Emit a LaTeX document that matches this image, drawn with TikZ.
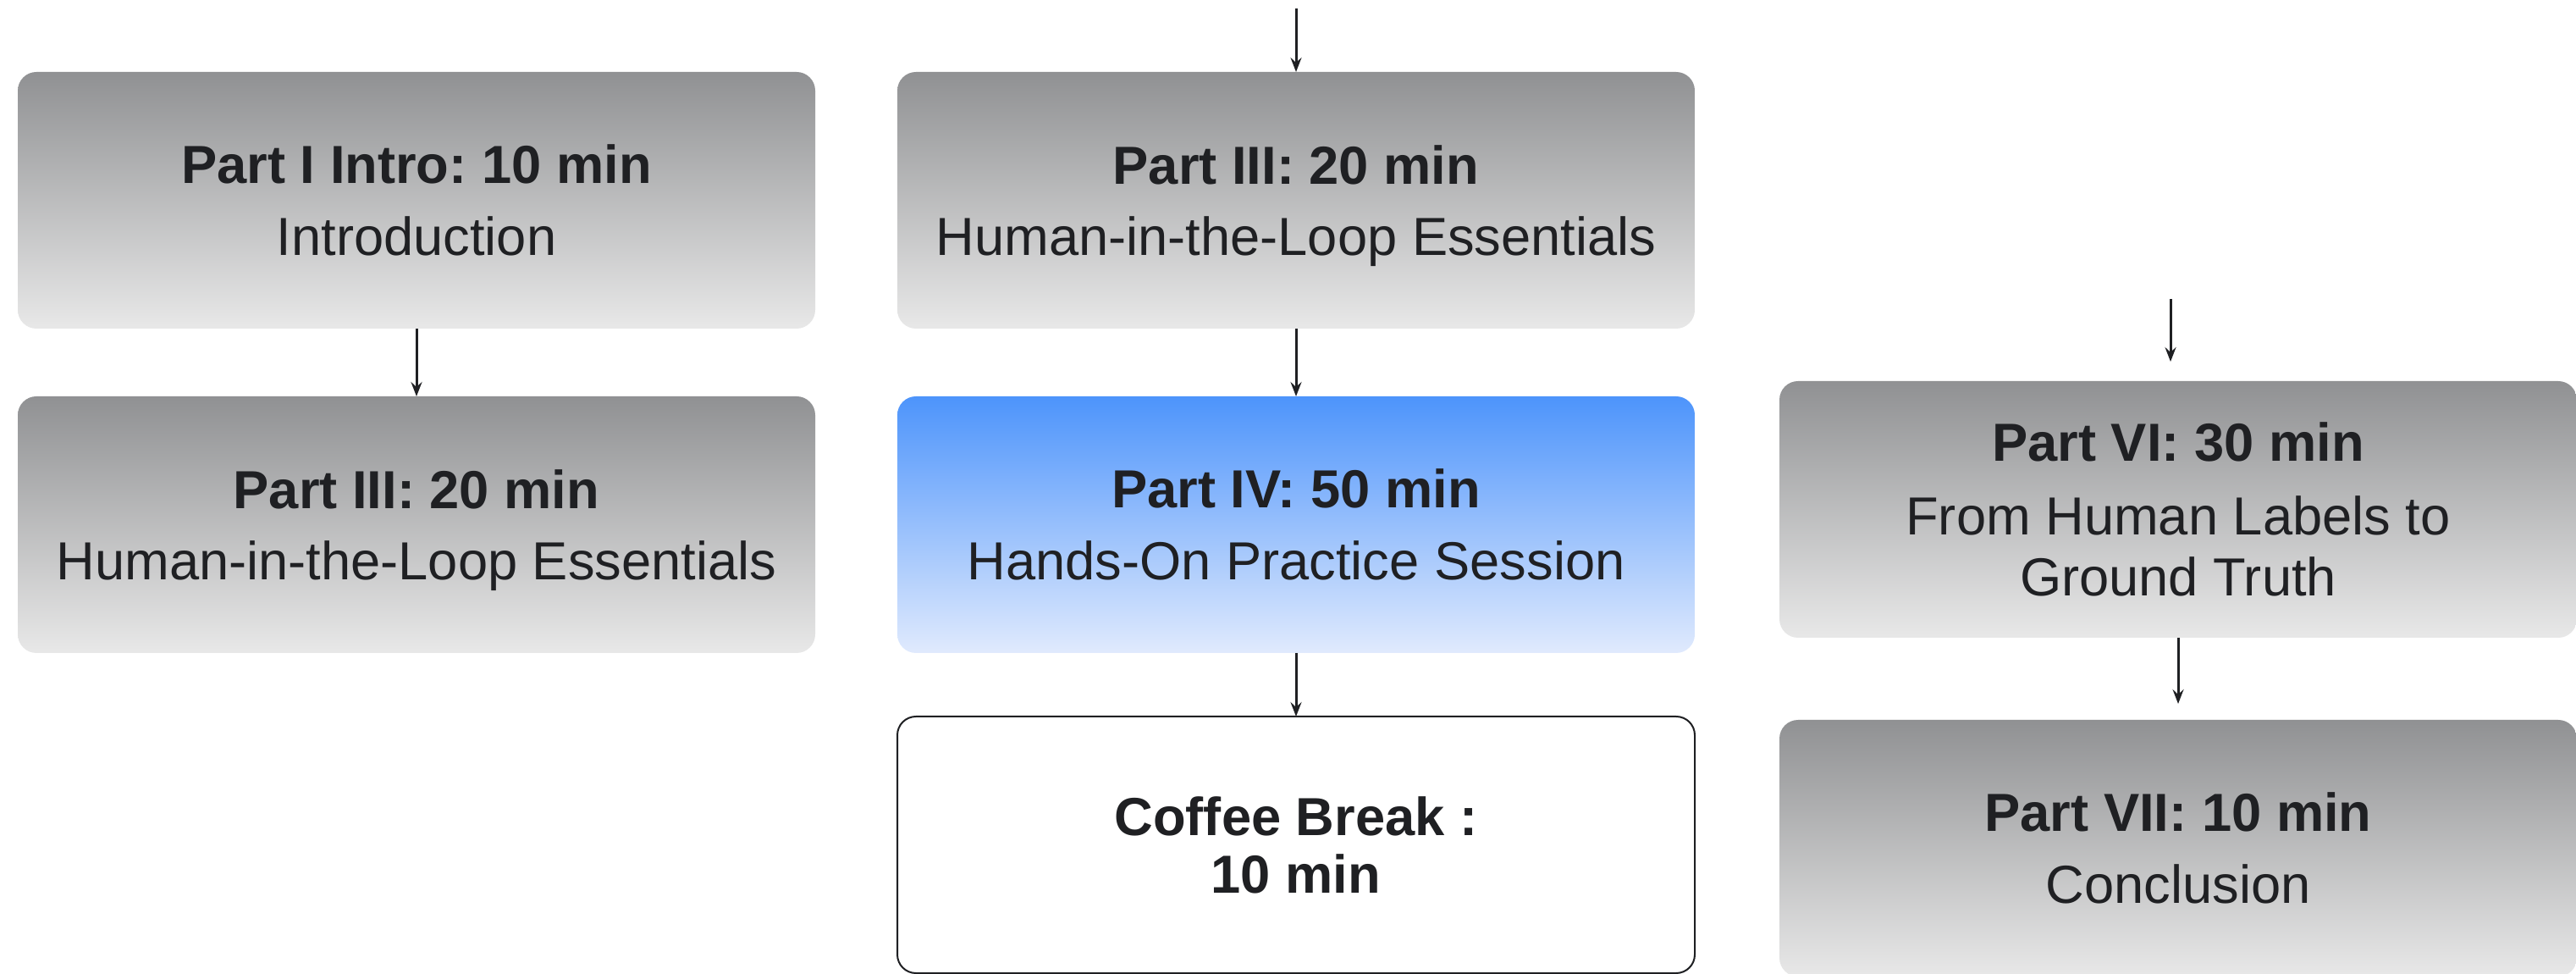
\documentclass[tikz,border=0pt]{standalone}
\usepackage{fontspec}
\setmainfont{Liberation Sans}
\usetikzlibrary{arrows.meta, positioning}
\frenchspacing

\definecolor{greytop}{HTML}{909193}
\definecolor{greybot}{HTML}{E8E8E8}
\definecolor{bluetop}{HTML}{4D94FB}
\definecolor{bluebot}{HTML}{E0EAFD}
\definecolor{ink}{HTML}{1F2023}

\begin{document}
\begin{tikzpicture}[
      node distance=8mm and 9.7mm,
      slot/.style={
        rounded corners=2.2mm, minimum width=94.2mm, minimum height=30.3mm,
        align=center, text=ink, outer sep=0pt,
        font=\fontsize{18}{20.5}\selectfont
      },
      part/.style={slot, top color=greytop, bottom color=greybot},
      handson/.style={slot, top color=bluetop, bottom color=bluebot},
      pause/.style={slot, draw=ink, line width=0.2mm, fill=white},
      arrow/.style={-{Stealth[length=1.7mm, width=1.3mm, inset=0.6mm]},
        line width=0.3mm, draw=ink}
    ]
    \useasboundingbox (0,0) rectangle (304.3mm,-115mm);
    % left column
    \node[part, anchor=north west] (intro) at (2.1mm,-8.5mm)
        {{\bfseries Part I Intro: 10 min}\\[3.6pt] Introduction};
    \node[part, below=of intro] (hitlA)
        {{\bfseries Part III: 20 min}\\[3.6pt] \smash{Human-in-the-Loop Essentials}};
    % middle column
    \node[part, right=of intro] (hitlB)
        {{\bfseries Part III: 20 min}\\[3.6pt] \smash{Human-in-the-Loop Essentials}};
    \node[handson, below=of hitlB] (practice)
        {{\bfseries Part IV: 50 min}\\[3.6pt] Hands-On Practice Session};
    \node[pause, below=7.5mm of practice] (coffee)
        {\bfseries Coffee Break :\\[-1.2pt] \bfseries 10 min};
    % right column
    \node[part, anchor=north west] (truth) at (210.2mm,-45mm)
        {{\bfseries Part VI: 30 min}\\[4.2pt] From Human Labels to\\ Ground Truth};
    \node[part, below=9.7mm of truth] (concl)
        {{\bfseries Part VII: 10 min}\\[3.6pt] Conclusion};
    \coordinate[above=7.5mm of hitlB] (entry);
    \coordinate (resume) at ([xshift=-0.9mm, yshift=9.7mm]truth.north);
    \draw[arrow] (entry) -- (hitlB);
    \draw[arrow] (intro) -- (hitlA);
    \draw[arrow] (hitlB) -- (practice);
    \draw[arrow] (practice) -- (coffee);
    \draw[arrow, shorten >=2.3mm] (resume) -- (resume |- truth.north);
    \draw[arrow, shorten >=1.9mm] (truth) -- (concl);
  \end{tikzpicture}
\end{document}
